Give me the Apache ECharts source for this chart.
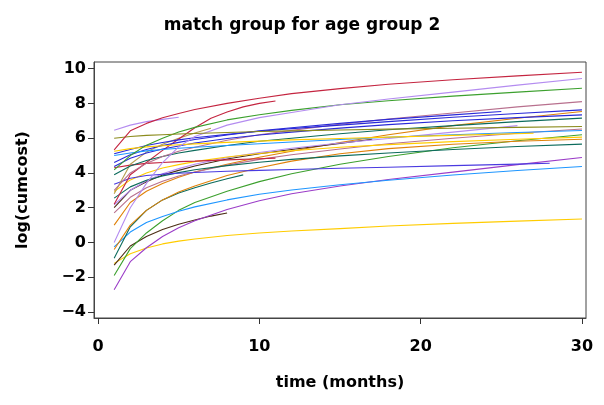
<!DOCTYPE html>
<html>
<head>
<meta charset="utf-8">
<script src="https://cdn.jsdelivr.net/npm/echarts@6/dist/echarts.min.js"></script>
<style>
  html, body { margin: 0; padding: 0; background: #fff; }
  #chart { width: 604px; height: 405px; }
</style>
</head>
<body>
<div id="chart"></div>
<script>
// Months at which the full-length trajectories are recorded
const tFull = [1, 2, 3, 4, 5, 6, 8, 10, 12, 15, 18, 22, 26, 30];

// Tick labels
const xTicks = [0, 10, 20, 30];
const yTicks = [-4, -2, 0, 2, 4, 6, 8, 10];

// log(cumcost) trajectories, one array per subject (paired with a month array)
const crimsonTop  = [5.33, 6.42, 6.85, 7.17, 7.42, 7.65, 8.0, 8.3, 8.56, 8.85, 9.1, 9.36, 9.58, 9.79];
const lavShortT   = [1, 2, 3, 4, 5];
const lavShort    = [6.45, 6.75, 6.95, 7.08, 7.2];
const oliveFlat   = [6.0, 6.1, 6.16, 6.2, 6.24, 6.27, 6.33, 6.38, 6.42, 6.47, 6.52, 6.57, 6.62, 6.67];
const lavLong     = [0.0, 2.0, 3.4, 4.6, 5.5, 6.1, 6.75, 7.18, 7.48, 7.92, 8.25, 8.65, 9.05, 9.43];
const greenTop    = [4.18, 5.0, 5.6, 6.0, 6.35, 6.62, 7.05, 7.35, 7.6, 7.92, 8.15, 8.42, 8.65, 8.87];
const goldHighT   = [1, 2, 3, 4, 5, 6, 8, 10, 12, 15, 18, 22, 27];
const goldHigh    = [5.25, 5.4, 5.5, 5.56, 5.62, 5.67, 5.76, 5.83, 5.9, 5.98, 6.06, 6.16, 6.28];
const skyHigh     = [5.0, 5.15, 5.27, 5.35, 5.42, 5.48, 5.58, 5.68, 5.78, 5.92, 6.05, 6.2, 6.33, 6.44];
const blueHigh    = [5.1, 5.35, 5.58, 5.75, 5.9, 6.02, 6.22, 6.4, 6.55, 6.75, 6.95, 7.2, 7.42, 7.63];
const blueMid     = [4.37, 4.85, 5.15, 5.38, 5.55, 5.72, 5.98, 6.18, 6.35, 6.58, 6.78, 7.0, 7.18, 7.34];
const blue25T     = [1, 2, 3, 4, 5, 6, 8, 10, 12, 15, 18, 22, 25];
const blue25      = [4.6, 5.05, 5.35, 5.58, 5.76, 5.92, 6.18, 6.42, 6.6, 6.85, 7.08, 7.34, 7.53];
const tealHigh    = [3.9, 4.4, 4.72, 4.95, 5.15, 5.3, 5.58, 5.82, 6.0, 6.25, 6.48, 6.72, 6.95, 7.15];
const redSteepT   = [1, 2, 3, 4, 5, 6, 7, 8, 9, 10, 11];
const redSteep    = [2.2, 3.9, 4.6, 5.3, 5.95, 6.6, 7.15, 7.5, 7.8, 8.0, 8.14];
const khakiT      = [1, 2, 3, 4, 5, 6, 7];
const khaki       = [2.8, 4.5, 5.2, 5.65, 6.0, 6.3, 6.57];
const redFlatT    = [1, 2, 3, 4, 5, 6, 8, 10, 11];
const redFlat     = [4.3, 4.45, 4.55, 4.6, 4.65, 4.68, 4.75, 4.82, 4.85];
const violetT     = [1, 2, 3, 4, 5, 6, 8, 10, 12, 15, 18, 22, 26, 28];
const violet      = [3.35, 3.7, 3.85, 3.93, 3.98, 4.03, 4.1, 4.15, 4.2, 4.27, 4.33, 4.42, 4.51, 4.56];
const goldLow     = [2.93, 3.6, 4.0, 4.28, 4.48, 4.65, 4.92, 5.12, 5.28, 5.48, 5.63, 5.8, 5.94, 6.06];
const tealMid     = [2.55, 3.2, 3.58, 3.83, 4.02, 4.18, 4.42, 4.62, 4.78, 4.98, 5.15, 5.35, 5.52, 5.66];
const lavMidT     = [1, 2, 3, 4, 5, 6, 8, 10, 12, 15, 18, 22, 26];
const lavMid      = [2.17, 3.0, 3.55, 3.95, 4.25, 4.5, 4.88, 5.18, 5.42, 5.72, 5.98, 6.35, 6.72];
const mauveLow    = [1.7, 2.6, 3.15, 3.52, 3.82, 4.05, 4.45, 4.78, 5.05, 5.38, 5.68, 6.0, 6.28, 6.53];
const mauveTop    = [3.0, 4.0, 4.55, 4.95, 5.25, 5.48, 5.88, 6.2, 6.45, 6.8, 7.1, 7.45, 7.8, 8.1];
const skyLow      = [-0.25, 0.6, 1.15, 1.5, 1.8, 2.05, 2.45, 2.78, 3.02, 3.32, 3.58, 3.88, 4.14, 4.37];
const orangeMid   = [-0.4, 1.0, 1.85, 2.45, 2.9, 3.25, 3.85, 4.3, 4.68, 5.1, 5.4, 5.65, 5.82, 5.94];
const tealShortT  = [1, 2, 3, 4, 5, 6, 7, 8, 9];
const tealShort   = [-0.9, 0.9, 1.85, 2.45, 2.85, 3.15, 3.42, 3.67, 3.89];
const yellowLow   = [-1.2, -0.65, -0.32, -0.08, 0.08, 0.2, 0.4, 0.55, 0.66, 0.8, 0.95, 1.1, 1.23, 1.35];
const brownShortT = [1, 2, 3, 4, 5, 6, 7, 8];
const brownShort  = [-1.3, -0.2, 0.35, 0.75, 1.05, 1.3, 1.52, 1.7];
const greenLow    = [-1.9, -0.35, 0.55, 1.25, 1.85, 2.3, 2.95, 3.5, 3.95, 4.5, 4.95, 5.45, 5.85, 6.2];
const purpleLow   = [-2.72, -1.1, -0.3, 0.35, 0.85, 1.25, 1.9, 2.4, 2.8, 3.25, 3.62, 4.05, 4.48, 4.89];
const orangeHigh  = [1.0, 2.3, 2.95, 3.4, 3.75, 4.05, 4.5, 4.9, 5.25, 5.75, 6.2, 6.72, 7.15, 7.53];
const brownMidT   = [1, 2, 3, 4, 5, 6, 8, 10, 12, 15, 17];
const brownMid    = [2.0, 3.0, 3.5, 3.88, 4.15, 4.4, 4.8, 5.1, 5.35, 5.7, 5.94];

// Line colours
const C = {
  crimson: '#c42540', lavender: '#b48cf0', green: '#3ca02e', mauve: '#b8708e',
  blue: '#2a2ad8', orange: '#e0820a', teal: '#0c6b5c', olive: '#8b8b1c',
  sky: '#1e96ff', gold: '#ffcc00', purple: '#9b3dc8', brown: '#4b2d14',
  violet: '#4a3ae0', khaki: '#b4a050'
};

const curves = [
  [tFull, yellowLow, C.gold],
  [brownShortT, brownShort, C.brown],
  [tFull, purpleLow, C.purple],
  [tFull, greenLow, C.green],
  [tFull, skyLow, C.sky],
  [tealShortT, tealShort, C.teal],
  [tFull, orangeMid, C.orange],
  [tFull, orangeHigh, C.orange],
  [tFull, mauveLow, C.mauve],
  [brownMidT, brownMid, C.brown],
  [lavMidT, lavMid, C.lavender],
  [tFull, tealMid, C.teal],
  [tFull, goldLow, C.gold],
  [violetT, violet, C.violet],
  [redFlatT, redFlat, C.crimson],
  [khakiT, khaki, C.khaki],
  [redSteepT, redSteep, C.crimson],
  [tFull, tealHigh, C.teal],
  [tFull, mauveTop, C.mauve],
  [blue25T, blue25, C.blue],
  [tFull, blueMid, C.blue],
  [tFull, blueHigh, C.blue],
  [tFull, skyHigh, C.sky],
  [goldHighT, goldHigh, C.gold],
  [tFull, greenTop, C.green],
  [tFull, lavLong, C.lavender],
  [tFull, oliveFlat, C.olive],
  [lavShortT, lavShort, C.lavender],
  [tFull, crimsonTop, C.crimson]
];

const FONT = 'DejaVu Sans';
const minus = v => (v < 0 ? '\u2212' + Math.abs(v) : String(v));
const axisText = { fontFamily: FONT, fontWeight: 'bold', fontSize: 16, color: '#000' };

const chart = echarts.init(document.getElementById('chart'), null, { renderer: 'canvas' });
chart.setOption({
  animation: false,
  backgroundColor: '#fff',
  title: {
    text: 'match group for age group 2',
    left: 'center',
    top: 12,
    textStyle: { fontFamily: FONT, fontWeight: 'bold', fontSize: 17, color: '#000' }
  },
  grid: {
    left: 94, right: 18, top: 62, bottom: 87,
    show: true, borderColor: '#444', borderWidth: 1, backgroundColor: '#fff'
  },
  xAxis: {
    type: 'value',
    min: -0.25, max: 30.25,
    name: 'time (months)',
    nameLocation: 'middle',
    nameGap: 57,
    nameTextStyle: axisText,
    axisLine: { show: true, onZero: false, lineStyle: { color: '#444', width: 1 } },
    axisTick: { show: true, inside: false, length: 6, customValues: xTicks, lineStyle: { color: '#333' } },
    axisLabel: Object.assign({ customValues: xTicks, margin: 21, formatter: minus }, axisText),
    splitLine: { show: false }
  },
  yAxis: {
    type: 'value',
    min: -4.34, max: 10.38,
    name: 'log(cumcost)',
    nameLocation: 'middle',
    nameGap: 63,
    nameRotate: 90,
    nameTextStyle: axisText,
    axisLine: { show: true, onZero: false, lineStyle: { color: '#444', width: 1 } },
    axisTick: { show: true, inside: false, length: 6, customValues: yTicks, lineStyle: { color: '#333' } },
    axisLabel: Object.assign({ customValues: yTicks, margin: 8, formatter: minus }, axisText),
    splitLine: { show: false }
  },
  series: curves.map(([t, v, color]) => ({
    type: 'line',
    data: t.map((x, i) => [x, v[i]]),
    showSymbol: false,
    smooth: false,
    lineStyle: { width: 1.1, color: color },
    itemStyle: { color: color },
    emphasis: { disabled: true }
  }))
});
</script>
</body>
</html>
